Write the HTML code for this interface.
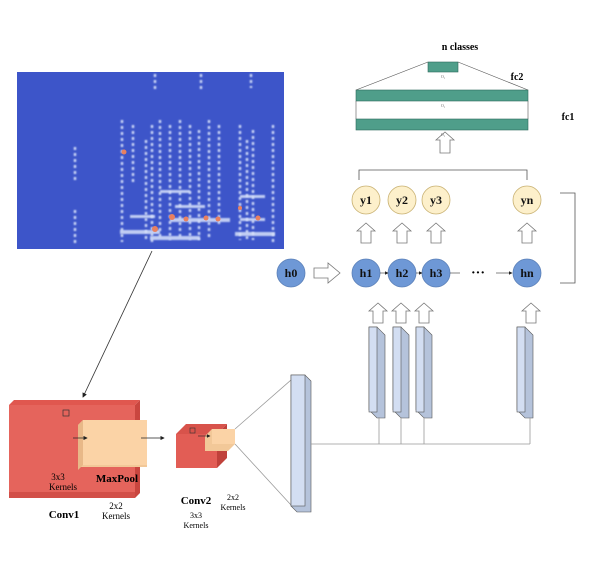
<!DOCTYPE html>
<html><head><meta charset="utf-8"><style>body{margin:0;background:#fff}svg{display:block}</style></head>
<body>
<svg width="600" height="565" viewBox="0 0 600 565" xmlns="http://www.w3.org/2000/svg" font-family="Liberation Serif, serif">
<defs>
<marker id="ar" markerWidth="6" markerHeight="6" refX="5" refY="3" orient="auto"><path d="M0,0 L6,3 L0,6 z" fill="#222"/></marker>
<g id="u"><polygon points="-5,20 -5,8 -9,8 0,0 9,8 5,8 5,20"/></g>
<filter id="bl"><feGaussianBlur stdDeviation="0.8"/></filter>
</defs>
<!-- spectrogram -->
<rect x="17" y="72" width="267" height="177" fill="#3d55c9"/>
<g stroke="#d8e2fa" stroke-width="2.5" stroke-dasharray="3 3" filter="url(#bl)" opacity="0.9">
<line x1="75" y1="147" x2="75" y2="180"/><line x1="75" y1="210" x2="75" y2="246"/>
<line x1="122" y1="120" x2="122" y2="242"/><line x1="133" y1="125" x2="133" y2="185"/>
<line x1="146" y1="140" x2="146" y2="240"/><line x1="152" y1="125" x2="152" y2="245"/>
<line x1="160" y1="120" x2="160" y2="240"/><line x1="170" y1="125" x2="170" y2="240"/>
<line x1="180" y1="120" x2="180" y2="240"/><line x1="190" y1="125" x2="190" y2="240"/>
<line x1="199" y1="130" x2="199" y2="240"/><line x1="209" y1="120" x2="209" y2="240"/>
<line x1="219" y1="125" x2="219" y2="225"/><line x1="240" y1="125" x2="240" y2="240"/>
<line x1="247" y1="140" x2="247" y2="240"/><line x1="253" y1="130" x2="253" y2="240"/>
<line x1="273" y1="125" x2="273" y2="245"/>
<line x1="155" y1="74" x2="155" y2="90"/><line x1="201" y1="74" x2="201" y2="90"/><line x1="251" y1="74" x2="251" y2="88"/>
</g>
<g fill="#d8e2fa" filter="url(#bl)" opacity="0.85">
<rect x="120" y="230" width="40" height="4"/><rect x="150" y="236" width="50" height="4"/><rect x="235" y="232" width="40" height="4"/>
<rect x="130" y="215" width="25" height="3"/><rect x="170" y="218" width="60" height="4"/><rect x="240" y="218" width="25" height="3"/>
<rect x="160" y="190" width="30" height="3"/><rect x="175" y="205" width="30" height="3"/><rect x="240" y="195" width="25" height="3"/>
</g>
<g fill="#e88060"><circle cx="155" cy="229" r="3"/><circle cx="172" cy="217" r="3"/><circle cx="186" cy="219" r="2.5"/><circle cx="206" cy="218" r="2.5"/><circle cx="218" cy="219" r="2.5"/><circle cx="258" cy="218" r="2.5"/><circle cx="124" cy="152" r="2.5"/><circle cx="240" cy="208" r="2"/></g>
<line x1="152" y1="251" x2="83" y2="397" stroke="#333" stroke-width="0.8" marker-end="url(#ar)"/>
<!-- Conv1 -->
<polygon points="9,405 14,400 140,400 135,405" fill="#e0574f"/>
<polygon points="135,405 140,400 140,493 135,498" fill="#c9463f"/>
<rect x="9" y="405" width="126" height="93" fill="#e5645c"/>
<polygon points="9,492 135,492 135,498 9,498" fill="#d24f48"/>
<rect x="63" y="410" width="6" height="6" fill="none" stroke="#333" stroke-width="0.7"/>
<!-- MaxPool -->
<polygon points="78,425 83,420 147,420 147,467 78,467" fill="#f2c898"/>
<rect x="83" y="420" width="64" height="45" fill="#fbd3a6"/>
<polygon points="78,425 83,420 83,465 78,470" fill="#e8b888"/>
<line x1="73" y1="438" x2="87" y2="438" stroke="#222" stroke-width="0.7" marker-end="url(#ar)"/>
<line x1="141" y1="438" x2="164" y2="438" stroke="#222" stroke-width="0.7" marker-end="url(#ar)"/>
<text x="58" y="480" font-size="9" text-anchor="middle">3x3</text>
<text x="63" y="490" font-size="9" text-anchor="middle">Kernels</text>
<text x="117" y="482" font-size="11" font-weight="bold" text-anchor="middle">MaxPool</text>
<text x="64" y="518" font-size="11" font-weight="bold" text-anchor="middle">Conv1</text>
<text x="116" y="509" font-size="9" text-anchor="middle">2x2</text>
<text x="116" y="519" font-size="9" text-anchor="middle">Kernels</text>
<!-- Conv2 -->
<polygon points="176,434 186,424 227,424 217,434" fill="#d8534b"/>
<polygon points="217,434 227,424 227,458 217,468" fill="#c0413b"/>
<rect x="176" y="434" width="41" height="34" fill="#e25d55"/>
<rect x="190" y="428" width="5" height="5" fill="none" stroke="#333" stroke-width="0.6"/>
<polygon points="205,436 212,429 235,429 235,444 228,451 205,451" fill="#f2c898"/>
<rect x="212" y="429" width="23" height="15" fill="#fbd3a6"/>
<line x1="198" y1="436" x2="210" y2="436" stroke="#222" stroke-width="0.6" marker-end="url(#ar)"/>
<text x="196" y="504" font-size="11" font-weight="bold" text-anchor="middle">Conv2</text>
<text x="196" y="518" font-size="8" text-anchor="middle">3x3</text>
<text x="196" y="528" font-size="8" text-anchor="middle">Kernels</text>
<text x="233" y="500" font-size="8" text-anchor="middle">2x2</text>
<text x="233" y="510" font-size="8" text-anchor="middle">Kernels</text>
<line x1="235" y1="429" x2="291" y2="380" stroke="#999" stroke-width="0.8"/>
<line x1="235" y1="444" x2="291" y2="505" stroke="#999" stroke-width="0.8"/>
<!-- big prism -->
<polygon points="291,375 305,375 311,381 311,512 297,512 291,506" fill="#b5c3db" stroke="#555" stroke-width="0.6"/>
<rect x="291" y="375" width="14" height="131" fill="#d3def2" stroke="#555" stroke-width="0.6"/>
<line x1="311" y1="444" x2="530" y2="444" stroke="#999" stroke-width="0.8"/>
<!-- columns -->
<g stroke="#555" stroke-width="0.6">
<g id="c"><polygon points="369,327 377,327 385,335 385,418 377,418 369,410" fill="#b5c3db"/><rect x="369" y="327" width="8" height="85" fill="#d3def2"/></g>
<use href="#c" x="24"/><use href="#c" x="47"/><use href="#c" x="148"/>
</g>
<g stroke="#999" stroke-width="0.8"><line x1="379" y1="444" x2="379" y2="417"/><line x1="401" y1="444" x2="401" y2="417"/><line x1="424" y1="444" x2="424" y2="417"/><line x1="530" y1="444" x2="530" y2="418"/></g>
<!-- up arrows -->
<g fill="#fff" stroke="#777" stroke-width="0.8">
<use href="#u" x="378" y="303"/><use href="#u" x="401" y="303"/><use href="#u" x="424" y="303"/><use href="#u" x="531" y="303"/>
<use href="#u" x="366" y="223"/><use href="#u" x="402" y="223"/><use href="#u" x="436" y="223"/><use href="#u" x="527" y="223"/>
<polygon points="440,153 440,140 436,140 445,132 454,140 450,140 450,153"/>
<polygon points="314,268 328,268 328,263 340,273 328,283 328,278 314,278"/>
</g>
<!-- h nodes -->
<g stroke="#5b80b8" stroke-width="0.8" fill="#6e98d6">
<circle cx="291" cy="273" r="14"/><circle cx="366" cy="273" r="14"/><circle cx="402" cy="273" r="14"/><circle cx="436" cy="273" r="14"/><circle cx="527" cy="273" r="14"/>
</g>
<g stroke="#333" stroke-width="0.6"><line x1="380" y1="273" x2="388" y2="273" marker-end="url(#ar)"/><line x1="416" y1="273" x2="422" y2="273" marker-end="url(#ar)"/><line x1="450" y1="273" x2="460" y2="273"/><line x1="496" y1="273" x2="512" y2="273" marker-end="url(#ar)"/></g>
<text x="478" y="277" font-size="14" font-weight="bold" text-anchor="middle">···</text>
<g font-size="12" font-weight="bold" text-anchor="middle" fill="#111">
<text x="291" y="277">h0</text><text x="366" y="277">h1</text><text x="402" y="277">h2</text><text x="436" y="277">h3</text><text x="527" y="277">hn</text>
</g>
<!-- y nodes -->
<g stroke="#c8b070" stroke-width="0.8" fill="#fdf0cb">
<circle cx="366" cy="200" r="14"/><circle cx="402" cy="200" r="14"/><circle cx="436" cy="200" r="14"/><circle cx="527" cy="200" r="14"/>
</g>
<g font-size="12" font-weight="bold" text-anchor="middle" fill="#111">
<text x="366" y="204">y1</text><text x="402" y="204">y2</text><text x="436" y="204">y3</text><text x="527" y="204">yn</text>
</g>
<polyline points="359,180 359,170 527,170 527,180" fill="none" stroke="#555" stroke-width="0.8"/>
<polyline points="560,193 575,193 575,283 560,283" fill="none" stroke="#555" stroke-width="0.8"/>
<!-- fc -->
<rect x="356" y="90" width="172" height="11" fill="#4f9e8a" stroke="#2d6a5c" stroke-width="0.6"/>
<rect x="356" y="119" width="172" height="11" fill="#4f9e8a" stroke="#2d6a5c" stroke-width="0.6"/>
<rect x="428" y="62" width="30" height="10" fill="#4f9e8a" stroke="#2d6a5c" stroke-width="0.6"/>
<g stroke="#555" stroke-width="0.6"><line x1="428" y1="62" x2="356" y2="90"/><line x1="458" y1="62" x2="528" y2="90"/><line x1="356" y1="101" x2="356" y2="119"/><line x1="528" y1="101" x2="528" y2="119"/></g>
<g font-size="4" text-anchor="middle" fill="#666"><text x="443" y="78">O₁</text><text x="443" y="107">O₁</text><text x="443" y="136">O₁</text></g>
<text x="460" y="50" font-size="10" font-weight="bold" text-anchor="middle">n classes</text>
<text x="517" y="80" font-size="10" font-weight="bold" text-anchor="middle">fc2</text>
<text x="568" y="120" font-size="10" font-weight="bold" text-anchor="middle">fc1</text>
</svg>
</body></html>
